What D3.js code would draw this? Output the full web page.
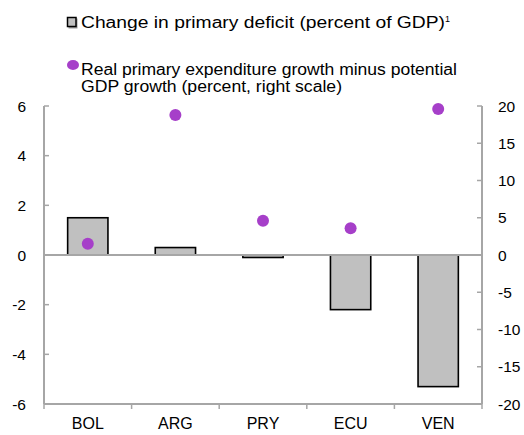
<!DOCTYPE html>
<html>
<head>
<meta charset="utf-8">
<script src="https://cdn.jsdelivr.net/npm/d3@7"></script>
<style>
  body { margin: 0; background: #fff; }
  text { font-family: "Liberation Sans", Arial, sans-serif; fill: #000; }
</style>
</head>
<body>
<script>
// data
var countries = ["BOL", "ARG", "PRY", "ECU", "VEN"];
var deficitChange = [1.5, 0.3, -0.1, -2.2, -5.3];      // left scale
var expGrowthGap = [1.5, 18.8, 4.6, 3.6, 19.6];        // right scale
var leftTicks = [-6, -4, -2, 0, 2, 4, 6];
var rightTicks = [-20, -15, -10, -5, 0, 5, 10, 15, 20];

var width = 524, height = 435;
var plotL = 44, plotR = 482, plotT = 106, plotB = 404;
var axisGrey = "#a6a6a6";

var svg = d3.select("body").append("svg")
    .attr("width", width)
    .attr("height", height);

var x = d3.scaleBand().domain(countries).range([plotL, plotR]).paddingInner(0).paddingOuter(0);
var yL = d3.scaleLinear().domain([-6, 6]).range([plotB, plotT]);
var yR = d3.scaleLinear().domain([-20, 20]).range([plotB, plotT]);

var barW = x.bandwidth() * 0.46;

// bars
svg.selectAll(".bar").data(countries).enter().append("rect")
    .attr("class", "bar")
    .attr("x", function(d) { return x(d) + (x.bandwidth() - barW) / 2; })
    .attr("y", function(d, i) { return yL(Math.max(0, deficitChange[i])); })
    .attr("width", barW)
    .attr("height", function(d, i) { return Math.abs(yL(deficitChange[i]) - yL(0)); })
    .attr("fill", "#c0c0c0")
    .attr("stroke", "#000")
    .attr("stroke-width", 1.6);

// zero line
svg.append("line")
    .attr("x1", plotL).attr("x2", plotR)
    .attr("y1", yL(0)).attr("y2", yL(0))
    .style("stroke", axisGrey).style("stroke-width", 2);

// left axis
svg.append("line")
    .attr("x1", plotL).attr("x2", plotL).attr("y1", plotT).attr("y2", plotB)
    .style("stroke", axisGrey).style("stroke-width", 2);
svg.selectAll(".ltick").data(leftTicks).enter().append("line")
    .attr("x1", plotL).attr("x2", plotL + 5)
    .attr("y1", function(d) { return yL(d); }).attr("y2", function(d) { return yL(d); })
    .style("stroke", axisGrey).style("stroke-width", 1.5);
svg.selectAll(".llab").data(leftTicks).enter().append("text")
    .attr("x", 26).attr("y", function(d) { return yL(d) + 5.5; })
    .attr("text-anchor", "end")
    .style("font-size", "15.5px")
    .text(function(d) { return d; });

// right axis
svg.append("line")
    .attr("x1", plotR).attr("x2", plotR).attr("y1", plotT).attr("y2", plotB)
    .style("stroke", axisGrey).style("stroke-width", 2);
svg.selectAll(".rtick").data(rightTicks).enter().append("line")
    .attr("x1", plotR - 5).attr("x2", plotR)
    .attr("y1", function(d) { return yR(d); }).attr("y2", function(d) { return yR(d); })
    .style("stroke", axisGrey).style("stroke-width", 1.5);
svg.selectAll(".rlab").data(rightTicks).enter().append("text")
    .attr("x", 498).attr("y", function(d) { return yR(d) + 5.5; })
    .attr("text-anchor", "start")
    .style("font-size", "15.5px")
    .text(function(d) { return d; });

// bottom axis
svg.append("line")
    .attr("x1", plotL).attr("x2", plotR).attr("y1", plotB).attr("y2", plotB)
    .style("stroke", axisGrey).style("stroke-width", 2);
var bounds = countries.map(function(d) { return x(d); }).concat([plotR]);
svg.selectAll(".btick").data(bounds).enter().append("line")
    .attr("x1", function(d) { return d; }).attr("x2", function(d) { return d; })
    .attr("y1", plotB).attr("y2", plotB + 5)
    .style("stroke", axisGrey).style("stroke-width", 1.5);
svg.selectAll(".blab").data(countries).enter().append("text")
    .attr("x", function(d) { return x(d) + x.bandwidth() / 2; })
    .attr("y", 429)
    .attr("text-anchor", "middle")
    .style("font-size", "16px")
    .text(function(d) { return d; });

// dots
svg.selectAll(".dot").data(countries).enter().append("circle")
    .attr("cx", function(d) { return x(d) + x.bandwidth() / 2; })
    .attr("cy", function(d, i) { return yR(expGrowthGap[i]); })
    .attr("r", 6)
    .attr("fill", "#a63fc9");

// legend
svg.append("rect")
    .attr("x", 68.5).attr("y", 18.5).attr("width", 9).attr("height", 10)
    .attr("fill", "#9a9a9a");
svg.append("rect")
    .attr("x", 67.5).attr("y", 17.5).attr("width", 8.5).attr("height", 9)
    .attr("fill", "#c0c0c0").attr("stroke", "#000").attr("stroke-width", 1.5);
svg.append("text").attr("x", 81).attr("y", 28).style("font-size", "16px")
    .attr("textLength", 364).attr("lengthAdjust", "spacingAndGlyphs")
    .text("Change in primary deficit (percent of GDP)");
svg.append("text").attr("x", 445).attr("y", 22).style("font-size", "9px").text("1");

svg.append("ellipse").attr("cx", 73).attr("cy", 65).attr("rx", 6).attr("ry", 5).attr("fill", "#a63fc9");
svg.append("text").attr("x", 81).attr("y", 75).style("font-size", "16px")
    .attr("textLength", 376).attr("lengthAdjust", "spacingAndGlyphs")
    .text("Real primary expenditure growth minus potential");
svg.append("text").attr("x", 81).attr("y", 92).style("font-size", "16px")
    .attr("textLength", 261).attr("lengthAdjust", "spacingAndGlyphs")
    .text("GDP growth (percent, right scale)");
</script>
</body>
</html>
